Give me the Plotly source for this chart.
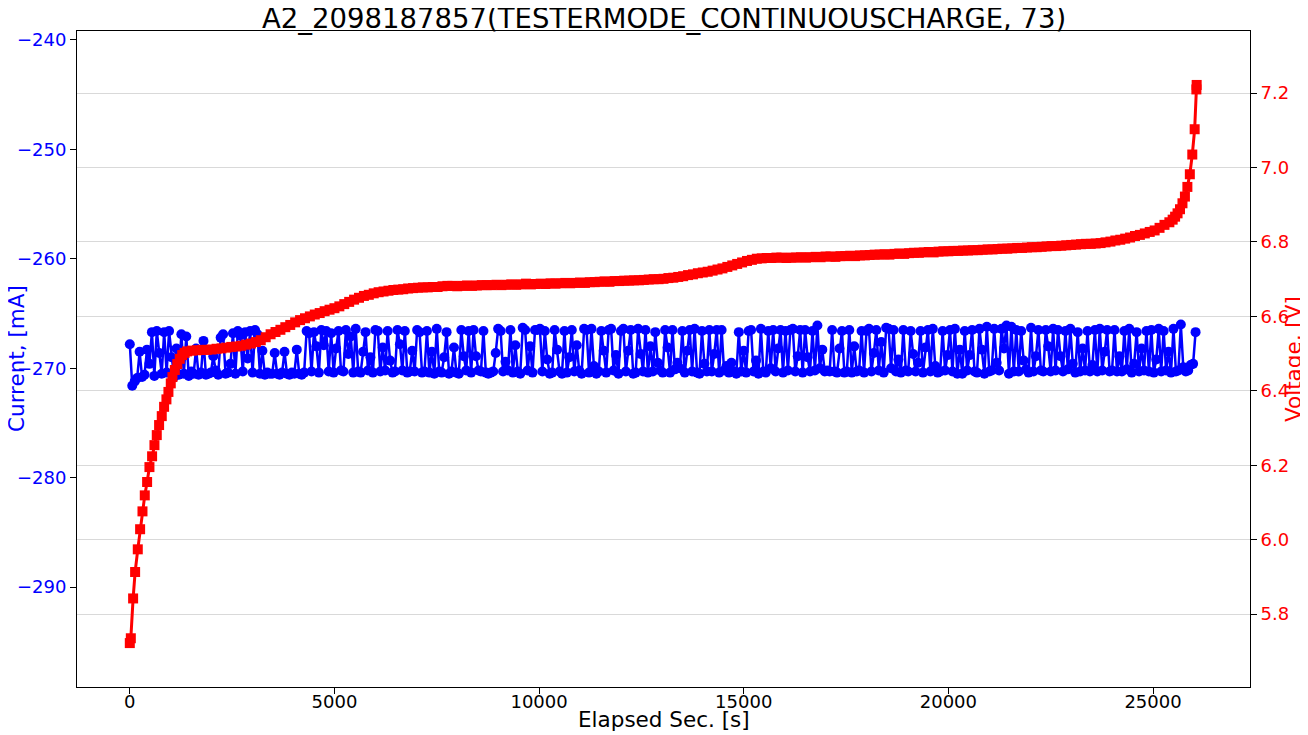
import plotly.graph_objects as go

TITLE = "A2_2098187857(TESTERMODE_CONTINUOUSCHARGE, 73)"

# Current [mA], sampled every 60 s
CURRENT_STEP_S = 60
current_ma = [
    -267.8, -271.6, -271.2, -270.9, -268.5, -270.8, -270.6, -268.3, -269.6, -266.7, -270.7, -266.6, -268.6, -270.5, -266.7, -270.4, -266.6, -269.0, -270.8, -268.2,
    -270.6, -266.9, -270.5, -267.1, -270.7, -270.3, -270.5, -268.2, -270.6, -270.4, -267.5, -270.6, -270.5, -270.4, -268.9, -270.2, -270.6, -267.2, -266.9, -270.5,
    -270.4, -269.6, -266.8, -270.5, -266.6, -267.0, -270.3, -266.7, -269.1, -266.6, -270.4, -266.5, -266.9, -270.5, -268.4, -270.6, -270.4, -270.5, -270.5, -268.6,
    -270.5, -270.6, -270.4, -268.5, -270.5, -270.6, -270.4, -270.5, -268.3, -270.5, -270.6, -270.4, -266.6, -266.8, -270.3, -266.7, -268.0, -270.4, -266.5, -267.9,
    -266.6, -270.3, -266.8, -270.4, -268.2, -266.6, -270.2, -270.3, -266.5, -268.7, -267.1, -270.4, -266.4, -270.3, -270.4, -268.5, -266.7, -270.2, -269.0, -270.4,
    -266.5, -266.6, -270.3, -268.1, -270.2, -266.6, -269.3, -270.4, -270.3, -266.5, -267.8, -270.2, -266.6, -270.4, -270.3, -268.4, -270.3, -266.5, -266.7, -270.4,
    -270.3, -266.6, -270.4, -268.5, -270.5, -266.4, -270.3, -270.4, -269.0, -266.7, -270.5, -270.3, -268.1, -270.4, -270.5, -266.5, -268.9, -270.2, -266.6, -270.4,
    -266.5, -268.9, -270.2, -270.3, -266.6, -270.4, -270.5, -270.4, -270.3, -268.6, -266.4, -266.6, -270.3, -269.4, -270.2, -266.5, -270.4, -267.9, -270.3, -270.5,
    -266.3, -266.5, -270.2, -268.0, -270.4, -266.5, -266.5, -266.4, -270.3, -266.6, -269.2, -270.5, -270.4, -266.5, -268.3, -270.3, -270.5, -266.6, -270.4, -269.0,
    -266.5, -270.3, -267.9, -270.2, -270.5, -266.4, -266.5, -270.4, -266.4, -269.8, -270.5, -270.3, -266.6, -268.4, -270.4, -266.5, -266.4, -270.2, -268.8, -270.5,
    -266.6, -266.4, -270.3, -268.4, -266.5, -270.5, -270.4, -266.4, -268.7, -270.3, -266.5, -270.4, -268.0, -270.3, -266.7, -269.5, -270.2, -270.4, -266.5, -268.1,
    -270.4, -266.5, -270.1, -269.5, -270.0, -266.6, -270.4, -268.4, -266.5, -270.3, -266.4, -270.4, -270.5, -266.6, -269.6, -270.3, -266.5, -270.3, -268.7, -266.5,
    -270.4, -266.5, -270.2, -269.8, -270.4, -269.5, -270.3, -270.5, -266.7, -270.3, -268.4, -270.4, -266.6, -266.5, -270.3, -269.3, -270.5, -266.4, -270.3, -270.4,
    -266.6, -270.0, -266.5, -270.3, -268.2, -266.5, -270.4, -266.6, -270.2, -266.5, -266.4, -270.3, -268.9, -266.5, -270.4, -266.5, -269.0, -270.3, -266.6, -270.2,
    -266.1, -270.0, -268.3, -270.3, -270.2, -270.3, -266.5, -270.3, -270.4, -268.2, -266.6, -270.4, -270.3, -266.5, -270.4, -268.0, -270.3, -270.2, -266.6, -270.4,
    -266.6, -266.4, -270.3, -268.6, -266.5, -270.2, -267.6, -270.4, -266.3, -266.4, -270.0, -266.5, -270.3, -269.2, -270.4, -266.5, -270.2, -270.3, -266.6, -268.7,
    -270.3, -269.5, -266.6, -270.4, -268.1, -266.5, -270.3, -266.4, -269.8, -270.4, -270.3, -266.6, -270.2, -268.8, -266.5, -270.3, -266.4, -270.5, -268.3, -270.5,
    -266.6, -270.2, -268.8, -266.5, -270.3, -270.4, -266.4, -268.3, -270.5, -266.2, -270.3, -270.2, -266.4, -269.5, -270.2, -266.4, -268.2, -266.1, -270.5, -266.2,
    -270.3, -266.5, -270.3, -266.6, -269.3, -270.1, -270.4, -266.3, -270.3, -268.9, -266.5, -270.2, -270.3, -266.5, -268.0, -270.3, -266.4, -270.2, -266.5, -268.9,
    -270.3, -266.6, -270.1, -266.4, -269.6, -270.4, -266.7, -270.3, -268.2, -270.2, -266.6, -270.3, -269.7, -266.5, -270.3, -266.4, -270.2, -268.5, -266.5, -270.3,
    -270.2, -266.5, -270.3, -268.9, -270.3, -266.6, -270.1, -266.4, -270.4, -269.6, -266.7, -270.3, -268.2, -270.2, -266.6, -270.3, -266.5, -270.4, -269.2, -266.4,
    -270.3, -266.6, -270.2, -268.5, -270.4, -266.4, -270.3, -270.2, -266.0, -269.9, -270.3, -270.2, -269.7, -269.6, -266.7,
]
current_t = [i * CURRENT_STEP_S for i in range(len(current_ma))]

# Voltage [V] with its sample times [s]
voltage_t = [
    0, 25, 81, 130, 195, 252, 310, 366, 423, 480, 545, 602, 659, 716, 781, 838, 895, 944,
    1001, 1042, 1100, 1160, 1220, 1280, 1340, 1400,
    1520, 1640, 1760, 1880, 2000, 2120, 2240, 2360, 2480, 2600, 2720, 2840, 2960, 3080,
    3200, 3320, 3440, 3560, 3680, 3800, 3920, 4040, 4160, 4280, 4400, 4520, 4640, 4760,
    4880, 5000, 5120, 5240, 5360, 5480, 5600, 5720, 5840, 5960, 6080, 6200, 6320, 6440,
    6560, 6680, 6800, 6920, 7040, 7160, 7280, 7400, 7520, 7640, 7760, 7880, 8000, 8120,
    8240, 8360, 8480, 8600, 8720, 8840, 8960, 9080, 9200, 9320, 9440, 9560, 9680, 9800,
    9920, 10040, 10160, 10280, 10400, 10520, 10640, 10760, 10880, 11000, 11120, 11240,
    11360, 11480, 11600, 11720, 11840, 11960, 12080, 12200, 12320, 12440, 12560, 12680,
    12800, 12920, 13040, 13160, 13280, 13400, 13520, 13640, 13760, 13880, 14000, 14120,
    14240, 14360, 14480, 14600, 14720, 14840, 14960, 15080, 15200, 15320, 15440, 15560,
    15680, 15800, 15920, 16040, 16160, 16280, 16400, 16520, 16640, 16760, 16880, 17000,
    17120, 17240, 17360, 17480, 17600, 17720, 17840, 17960, 18080, 18200, 18320, 18440,
    18560, 18680, 18800, 18920, 19040, 19160, 19280, 19400, 19520, 19640, 19760, 19880,
    20000, 20120, 20240, 20360, 20480, 20600, 20720, 20840, 20960, 21080, 21200, 21320,
    21440, 21560, 21680, 21800, 21920, 22040, 22160, 22280, 22400, 22520, 22640, 22760,
    22880, 23000, 23120, 23240, 23360, 23480, 23600, 23720, 23840, 23960, 24080, 24200,
    24320, 24440, 24560, 24680, 24800, 24920, 25040, 25160, 25280, 25400, 25480, 25540,
    25600, 25660, 25720, 25780, 25840, 25900, 25960, 26018, 26060, 26067,
]
voltage_v = [
    5.722, 5.735, 5.842, 5.913, 5.974, 6.028, 6.076, 6.119, 6.155, 6.195, 6.224, 6.254,
    6.281, 6.308, 6.332, 6.357, 6.377, 6.397, 6.420, 6.437, 6.456, 6.472, 6.486, 6.496,
    6.502, 6.506,
    6.508, 6.509, 6.510, 6.510, 6.511, 6.513, 6.514, 6.516, 6.518, 6.519, 6.521, 6.524,
    6.527, 6.531, 6.536, 6.544, 6.552, 6.558, 6.564, 6.571, 6.577, 6.584, 6.590, 6.595,
    6.600, 6.605, 6.609, 6.614, 6.618, 6.622, 6.627, 6.633, 6.639, 6.645, 6.650, 6.655,
    6.658, 6.662, 6.665, 6.667, 6.669, 6.671, 6.672, 6.673, 6.675, 6.676, 6.677, 6.678,
    6.678, 6.679, 6.679, 6.681, 6.682, 6.682, 6.681, 6.682, 6.683, 6.682, 6.683, 6.684,
    6.684, 6.684, 6.685, 6.684, 6.685, 6.686, 6.685, 6.686, 6.688, 6.686, 6.687, 6.688,
    6.687, 6.689, 6.688, 6.689, 6.690, 6.689, 6.690, 6.691, 6.690, 6.692, 6.692, 6.693,
    6.694, 6.693, 6.695, 6.695, 6.696, 6.696, 6.697, 6.697, 6.698, 6.699, 6.700, 6.700,
    6.701, 6.703, 6.704, 6.706, 6.708, 6.711, 6.713, 6.716, 6.718, 6.720, 6.723, 6.726,
    6.729, 6.733, 6.737, 6.741, 6.745, 6.749, 6.752, 6.755, 6.756, 6.757, 6.757, 6.758,
    6.758, 6.757, 6.758, 6.758, 6.759, 6.758, 6.759, 6.760, 6.759, 6.761, 6.761, 6.760,
    6.762, 6.762, 6.763, 6.762, 6.764, 6.764, 6.765, 6.766, 6.766, 6.767, 6.766, 6.768,
    6.769, 6.768, 6.770, 6.771, 6.771, 6.772, 6.773, 6.772, 6.774, 6.775, 6.775, 6.776,
    6.776, 6.777, 6.777, 6.778, 6.778, 6.779, 6.780, 6.780, 6.781, 6.782, 6.782, 6.783,
    6.784, 6.784, 6.785, 6.786, 6.786, 6.787, 6.788, 6.789, 6.789, 6.790, 6.791, 6.792,
    6.793, 6.794, 6.795, 6.795, 6.796, 6.797, 6.799, 6.801, 6.804, 6.806, 6.809, 6.812,
    6.816, 6.819, 6.823, 6.827, 6.831, 6.838, 6.846, 6.853, 6.860, 6.868, 6.877, 6.888,
    6.904, 6.922, 6.948, 6.982, 7.035, 7.103, 7.210, 7.222,
]

x_ticks = [0, 5000, 10000, 15000, 20000, 25000]
current_ticks = [-290, -280, -270, -260, -250, -240]
voltage_ticks = [5.8, 6.0, 6.2, 6.4, 6.6, 6.8, 7.0, 7.2]

FONT = "DejaVu Sans"
TICK_SIZE = 18
LABEL_SIZE = 21.5

fig = go.Figure()
fig.add_trace(go.Scatter(
    x=current_t, y=current_ma, mode="lines+markers", name="Current",
    line=dict(color="blue", width=2.5),
    marker=dict(symbol="circle", size=10, color="blue"),
    yaxis="y",
))
fig.add_trace(go.Scatter(
    x=voltage_t, y=voltage_v, mode="lines+markers", name="Voltage",
    line=dict(color="red", width=3),
    marker=dict(symbol="square", size=10, color="red"),
    yaxis="y2",
))

fig.update_layout(
    width=1308, height=735,
    margin=dict(l=69, r=66, t=23, b=56, autoexpand=False),
    paper_bgcolor="white", plot_bgcolor="white",
    showlegend=False,
    font=dict(family=FONT, color="black"),
    xaxis=dict(
        range=[-1290, 27370], tickvals=x_ticks, ticktext=[str(v) for v in x_ticks],
        ticks="outside", ticklen=6, tickcolor="black", ticklabelstandoff=-8,
        tickfont=dict(size=TICK_SIZE, family=FONT),
        showline=True, linecolor="black", linewidth=1, mirror=True,
        showgrid=False, zeroline=False,
    ),
    yaxis=dict(
        range=[-299.13, -239.18], tickvals=current_ticks,
        ticks="outside", ticklen=6, tickcolor="black",
        tickfont=dict(size=TICK_SIZE, color="blue", family=FONT),
        showline=True, linecolor="black", linewidth=1,
        showgrid=False, zeroline=False,
    ),
    yaxis2=dict(
        range=[5.604, 7.367], tickvals=voltage_ticks, tickformat=".1f",
        overlaying="y", side="right",
        ticks="outside", ticklen=6, tickcolor="black",
        tickfont=dict(size=TICK_SIZE, color="red", family=FONT),
        showline=True, linecolor="black", linewidth=1,
        showgrid=True, gridcolor="#d9d9d9", gridwidth=1, zeroline=False,
    ),
    annotations=[
        dict(text=TITLE, xref="paper", yref="paper", x=0.5, y=1, yshift=13,
             showarrow=False, font=dict(size=27.5, family=FONT, color="black"),
             xanchor="center", yanchor="middle"),
        dict(text="Elapsed Sec. [s]", xref="paper", yref="paper", x=0.5, y=0, yshift=-32,
             showarrow=False, font=dict(size=LABEL_SIZE, family=FONT, color="black"),
             xanchor="center", yanchor="middle"),
        dict(text="Current, [mA]", xref="paper", yref="paper", x=0, xshift=-61, y=0.5,
             textangle=-90, showarrow=False, font=dict(size=LABEL_SIZE, family=FONT, color="blue"),
             xanchor="center", yanchor="middle"),
        dict(text="Voltage, [V]", xref="paper", yref="paper", x=1, xshift=43, y=0.5,
             textangle=-90, showarrow=False, font=dict(size=LABEL_SIZE, family=FONT, color="red"),
             xanchor="center", yanchor="middle"),
    ],
)

fig.write_html("out.html")
